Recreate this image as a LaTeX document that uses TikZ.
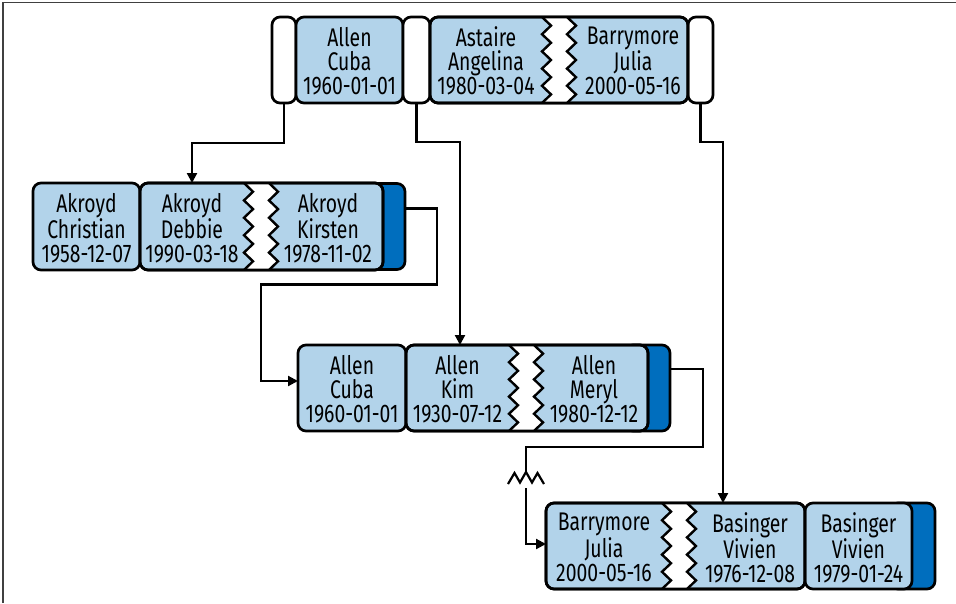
\documentclass[tikz,border=0pt]{standalone}
\usepackage{fontspec}
\setmainfont{Fira Sans}[FakeStretch=0.76]
\usetikzlibrary{arrows.meta,calc}
\definecolor{lblue}{RGB}{178,211,234}
\definecolor{dblue}{RGB}{0,110,190}
\tikzset{
  cell/.style={draw, line width=2.7pt, rounded corners=8pt, fill=lblue, minimum height=86pt, inner sep=0pt, outer sep=0pt},
  endcap/.style={cell, fill=white},
  dband/.style={cell, fill=dblue},
  txt/.style={align=center, inner sep=0pt, font=\fontsize{25.5}{24}\selectfont},
  zig/.style={line width=2.4pt, line join=miter},
  conn/.style={line width=2.2pt},
  arr/.style={conn, -{Triangle[length=10pt,width=10pt]}},
}
\newcommand\zzgap[3]{% #1 = top y, #2 = bottom y, #3 = left x
  \pgfmathsetmacro\zh{(#2-#1)/10}
  \fill[white] (#3,#1)
    \foreach \k in {1,...,10}{ -- ({#3+9*mod(\k,2)},{#1+\k*\zh}) }
    -- ({#3+25},#2)
    \foreach \k in {9,...,0}{ -- ({#3+25+9*mod(\k,2)},{#1+\k*\zh}) } -- cycle;
  \draw[zig] (#3,#1)
    \foreach \k in {1,...,10}{ -- ({#3+9*mod(\k,2)},{#1+\k*\zh}) };
  \draw[zig] ({#3+25},#1)
    \foreach \k in {1,...,10}{ -- ({#3+25+9*mod(\k,2)},{#1+\k*\zh}) };
}
\begin{document}
\begin{tikzpicture}[x=1pt,y=-1pt]
\useasboundingbox (0,0) rectangle (956,603);
\draw[line width=1.4pt, black!75] (3,603) -- (3,2.5) -- (956,2.5);

% ---------- Row 1 ----------
\node[endcap, minimum width=24pt] (capL) at (284,60) {};
\node[cell, minimum width=107pt] (top1) at (349.5,60) {};
\node[endcap, minimum width=27pt] (capM) at (416.5,60) {};
\node[cell, minimum width=258pt] (top2) at (559,60) {};
\node[endcap, minimum width=25pt] (capR) at (700.5,60) {};
\zzgap{17}{103}{542}
\draw[line width=2.7pt, rounded corners=8pt] (top2.north west) rectangle (top2.south east);
\node[txt] (tAllen1) at (349.5,61) {Allen\\Cuba\\1960-01-01};
\node[txt] (tAstaire) at (486,61) {Astaire\\Angelina\\1980-03-04};
\node[txt] (tBarry1) at (633,61) {Barrymore\\Julia\\2000-05-16};

% ---------- Row 2 ----------
\node[dband, minimum width=45pt] (akb) at (382.5,226.5) {};
\node[cell, minimum width=107pt, minimum height=87pt] (ak1) at (86.5,226.5) {};
\node[cell, minimum width=243pt, minimum height=87pt] (ak2) at (261.5,226.5) {};
\zzgap{183}{270}{244}
\draw[line width=2.7pt, rounded corners=8pt] (ak2.north west) rectangle (ak2.south east);
\node[txt] (tChristian) at (86.5,228) {Akroyd\\Christian\\1958-12-07};
\node[txt] (tDebbie) at (192,228) {Akroyd\\Debbie\\1990-03-18};
\node[txt] (tKirsten) at (328,228) {Akroyd\\Kirsten\\1978-11-02};

% ---------- Row 3 ----------
\node[dband, minimum width=45pt] (alb) at (647.5,388) {};
\node[cell, minimum width=108pt] (al1) at (352,388) {};
\node[cell, minimum width=242pt] (al2) at (527,388) {};
\zzgap{345}{431}{509}
\draw[line width=2.7pt, rounded corners=8pt] (al2.north west) rectangle (al2.south east);
\node[txt] (tCuba2) at (352,389.5) {Allen\\Cuba\\1960-01-01};
\node[txt] (tKim) at (457.5,389.5) {Allen\\Kim\\1930-07-12};
\node[txt] (tMeryl) at (594,389.5) {Allen\\Meryl\\1980-12-12};

% ---------- Row 4 ----------
\node[dband, minimum width=45pt] (bvb) at (912.5,546) {};
\node[cell, minimum width=259pt] (bb) at (675.5,546) {};
\node[cell, minimum width=107pt] (bv) at (858.5,546) {};
\zzgap{503}{589}{662}
\draw[line width=2.7pt, rounded corners=8pt] (bb.north west) rectangle (bb.south east);
\node[txt] (tBarry2) at (604,547.5) {Barrymore\\Julia\\2000-05-16};
\node[txt] (tVivien1) at (750,547.5) {Basinger\\Vivien\\1976-12-08};
\node[txt] (tVivien2) at (858.5,547.5) {Basinger\\Vivien\\1979-01-24};

% ---------- Connectors ----------
\draw[arr] (capL.south) -- ++(0,40) -| (tDebbie.center |- ak2.north);
\draw[arr] (capM.south) -- ++(0,39) -| ($(al2.north west)+(54,0)$);
\draw[arr] (capR.south) -- ++(0,39) -| ($(bb.north west)+(177,0)$);
\draw[arr] ([yshift=18pt]akb.east) -- ++(32,0) -- ++(0,76) -- ++(-176,0) |- ([yshift=7pt]al1.west);
\draw[conn] ([yshift=19pt]alb.east) -- ++(33,0) -- ++(0,78) -| (526,472) coordinate (brk);
\draw[conn, line join=miter] (508,484) -- (514.5,473) -- (520,482.5) -- (526,472) -- (532,482.5) -- (537.5,473) -- (544,484);
\draw[arr] (526,488) |- ([yshift=2pt]bb.west);
\end{tikzpicture}
\end{document}
